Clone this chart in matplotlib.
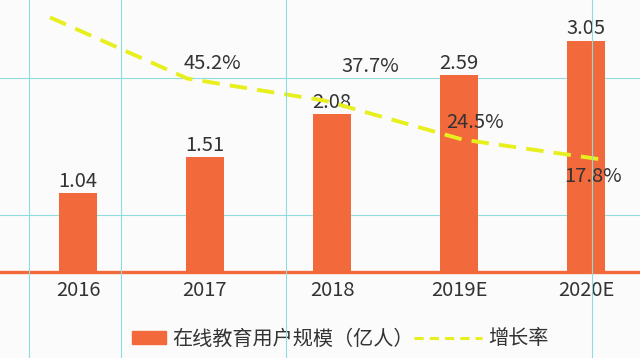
import numpy as np
import matplotlib
matplotlib.use("Agg")
import matplotlib.pyplot as plt
import matplotlib.patches as mpatches
from matplotlib.lines import Line2D
from matplotlib.legend_handler import HandlerPatch

plt.rcParams['font.family'] = ['Noto Sans CJK SC', 'DejaVu Sans']

# data
years = ['2016', '2017', '2018', '2019E', '2020E']
users = [1.04, 1.51, 2.08, 2.59, 3.05]          # 在线教育用户规模（亿人）
growth = [66.0, 45.2, 37.7, 24.5, 17.8]         # 增长率 (%), 2016 point is off the top
growth_labels = ['', '45.2%', '37.7%', '24.5%', '17.8%']

bar_color = '#f2693b'
line_color = '#e8ef1e'
text_color = '#333333'
bg = '#fbfbfb'
fs = 14.5

W, H = 640, 358
fig = plt.figure(figsize=(6.4, 3.58), dpi=100, facecolor=bg)

# guide lines seen in the screenshot (pixel positions)
guide_x = [29, 121, 286, 592]
guide_y = [78, 215]
for gy in guide_y:
    fig.add_artist(Line2D([0, 1], [1 - gy / H] * 2, color='#8fdcdc', lw=0.8,
                          transform=fig.transFigure, zorder=-1))

rect = [0, 86 / H, 1, 272 / H]
ax = fig.add_axes(rect)
ax.patch.set_visible(False)
x = np.arange(len(years))
ax.bar(x, users, width=0.3, color=bar_color, zorder=2)
ax.set_xlim(-78 / 127, (W - 78) / 127)
ax.set_ylim(0, 3.584)
for s in ax.spines.values():
    s.set_visible(False)
ax.axhline(0, color=bar_color, lw=2.4, zorder=3, clip_on=False)
ax.set_yticks([])
ax.set_xticks(x)
ax.set_xticklabels(years, fontsize=fs, color=text_color)
ax.tick_params(axis='x', length=0, pad=5.5)
for xi, v in zip(x, users):
    ax.annotate(f'{v:.2f}', (xi, v), xytext=(0, 4.5), textcoords='offset points',
                ha='center', va='baseline', fontsize=fs, color=text_color)

# growth line on its own overlay axes
ax2 = fig.add_axes(rect)
ax2.patch.set_visible(False)
ax2.axis('off')
ax2.set_xlim(-50 / 137.5, (W - 50) / 137.5)
ax2.set_ylim(-20.5, 71.9)
ax2.plot(x, growth, color=line_color, lw=2.8, dashes=(4.5, 2.6), clip_on=False, zorder=4)
# label offsets in pixels (dx, dy up) from each point
offs = [(0, 0), (25, 10), (45, 29), (13, 12), (-7, -23)]
for xi, g, lab, (dx, dy) in zip(x, growth, growth_labels, offs):
    if lab:
        ax2.annotate(lab, (xi, g), xytext=(dx * 0.72, dy * 0.72), textcoords='offset points',
                     ha='center', va='baseline', fontsize=fs, color=text_color, zorder=5)

for gx in guide_x:
    fig.add_artist(Line2D([gx / W] * 2, [0, 1], color='#8fdcdc', lw=0.8,
                          transform=fig.transFigure, zorder=10))


def bar_handle(legend, orig_handle, xdescent, ydescent, width, height, fontsize):
    return mpatches.Rectangle((-xdescent + width * 0.5, -ydescent), width * 0.5, height)


bar_h = mpatches.Patch(color=bar_color, label='在线教育用户规模（亿人）')
line_h = Line2D([], [], color=line_color, lw=2.2, dashes=(3, 2), label='增长率')
fig.legend(handles=[bar_h, line_h], loc='center left', bbox_to_anchor=(98 / W, 1 - 339 / H),
           ncol=2, frameon=False, fontsize=fs, handlelength=3.4, handleheight=0.6,
           handletextpad=0.3, columnspacing=0.0, borderpad=0, borderaxespad=0,
           labelcolor=text_color,
           handler_map={mpatches.Patch: HandlerPatch(patch_func=bar_handle)})

fig.savefig('out.png', dpi=100, facecolor=bg)
